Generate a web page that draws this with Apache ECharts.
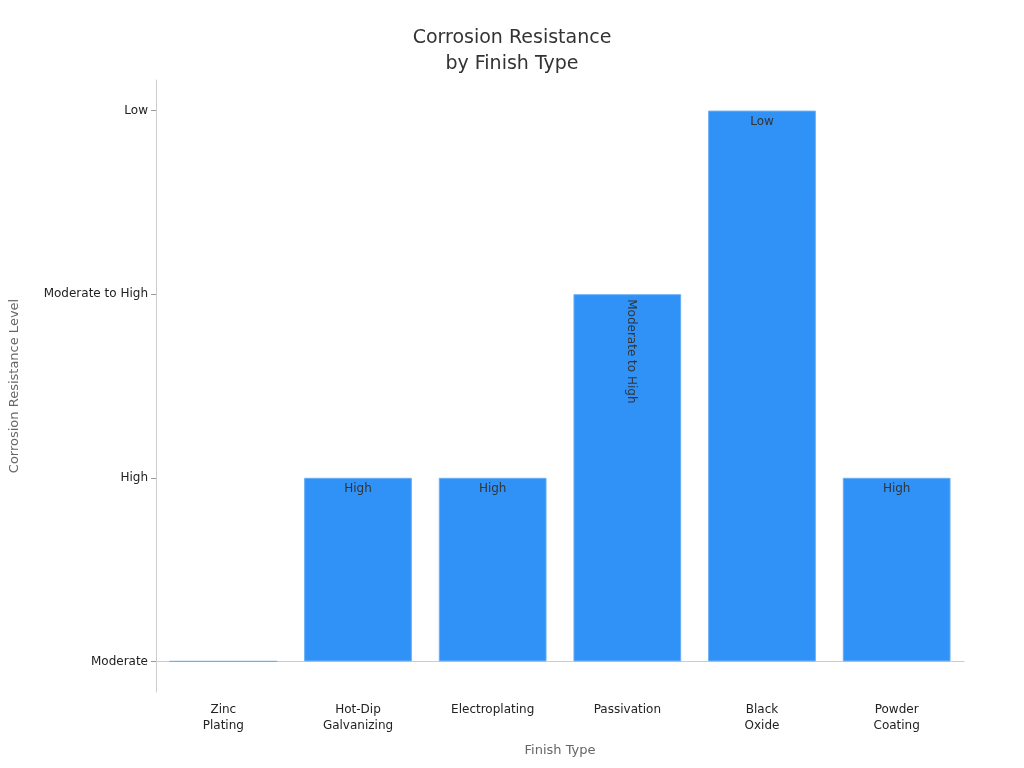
<!DOCTYPE html>
<html><head><meta charset="utf-8">
<script src="https://cdn.jsdelivr.net/npm/echarts@6/dist/echarts.min.js"></script>
<style>html,body{margin:0;padding:0;background:#fff}#c{width:1024px;height:768px}</style>
</head><body><div id="c"></div>
<script>
const categories = ['Zinc\nPlating','Hot-Dip\nGalvanizing','Electroplating','Passivation','Black\nOxide','Powder\nCoating'];
const levels = ['Moderate','High','Moderate to High','Low'];
const values = [0,1,1,2,3,1];
const chart = echarts.init(document.getElementById('c'));
const font = 'DejaVu Sans';
chart.setOption({
  animation:false,
  textStyle:{fontFamily:font},
  title:{text:'Corrosion Resistance\nby Finish Type',left:'center',top:20,
    textStyle:{fontSize:19,fontWeight:'normal',color:'#333',lineHeight:26,fontFamily:font}},
  grid:{left:148,right:60,top:80,bottom:76,containLabel:false},
  xAxis:{type:'category',data:categories,name:'Finish Type',nameLocation:'middle',nameGap:52,
    nameTextStyle:{color:'#666',fontSize:13},
    axisLine:{lineStyle:{color:'#ccc'}},
    axisTick:{alignWithLabel:true,lineStyle:{color:'#999'},length:4},
    axisLabel:{color:'#222',fontSize:12,lineHeight:16,margin:10}},
  yAxis:{type:'value',min:-1/6,max:19/6,name:'Corrosion Resistance Level',nameLocation:'middle',nameGap:135,
    nameTextStyle:{color:'#666',fontSize:13},
    splitLine:{show:false},
    axisLine:{show:true,lineStyle:{color:'#ccc'}},
    axisTick:{show:true,customValues:[0,1,2,3],length:5,lineStyle:{color:'#999'}},
    axisLabel:{customValues:[0,1,2,3],color:'#222',fontSize:12,formatter:v=>levels[Math.round(v)]}},
  series:[{type:'bar',barWidth:'80%',
    data:values.map((v,i)=>({value:v,label:{show:v>0,rotate:i===3?-90:0,
      position:'insideTop',align:i===3?'left':'center',verticalAlign:i===3?'middle':'top',
      offset:i===3?[0,-4]:[0,0],formatter:()=>levels[v]}})),
    itemStyle:{color:'#3092f6',borderColor:'#6aaef5',borderWidth:1},
    label:{color:'#333',fontSize:12}}]
});
</script></body></html>
